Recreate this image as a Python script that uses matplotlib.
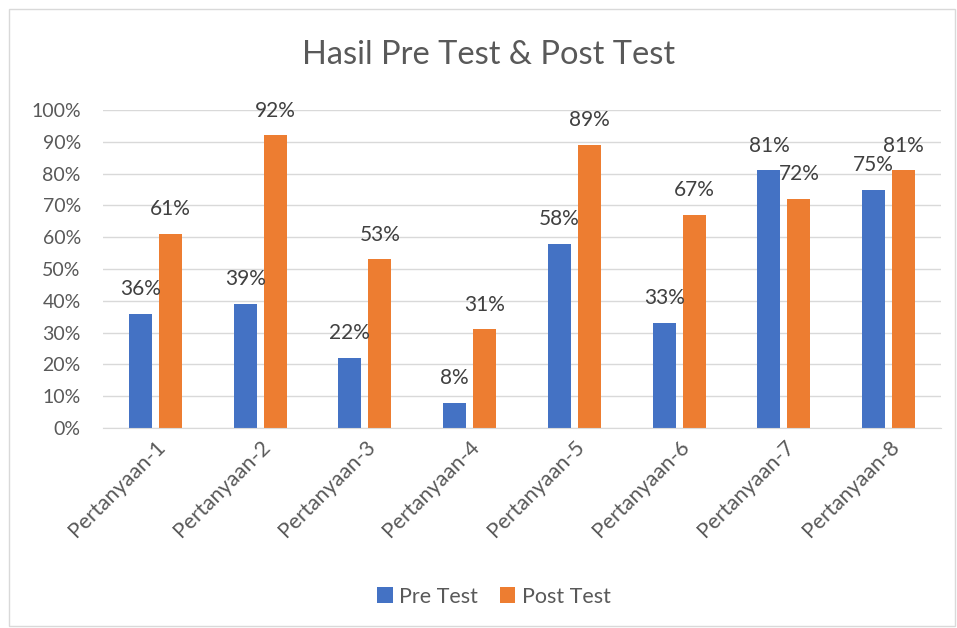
import numpy as np
import matplotlib.pyplot as plt
from matplotlib.patches import Rectangle

categories = ['Pertanyaan-1', 'Pertanyaan-2', 'Pertanyaan-3', 'Pertanyaan-4',
              'Pertanyaan-5', 'Pertanyaan-6', 'Pertanyaan-7', 'Pertanyaan-8']
pre_test = [0.36, 0.39, 0.22, 0.08, 0.58, 0.33, 0.81, 0.75]
post_test = [0.61, 0.92, 0.53, 0.31, 0.89, 0.67, 0.72, 0.81]
yticks = [0.0, 0.1, 0.2, 0.3, 0.4, 0.5, 0.6, 0.7, 0.8, 0.9, 1.0]

plt.rcParams['font.family'] = ['Lato', 'DejaVu Sans']
text_color = '#595959'

fig = plt.figure(figsize=(9.57, 6.28), dpi=100)
ax = fig.add_axes([0.1076, 0.3185, 0.8757, 0.5063])

# light border round the chart
fig.patches.append(Rectangle((0.009, 0.003), 0.989, 0.982, transform=fig.transFigure,
                             fill=False, edgecolor='#d9d9d9', linewidth=1))

x = np.arange(len(categories))
w = 0.22
off = 0.143
b1 = ax.bar(x - off, pre_test, w, color='#4472C4', label='Pre Test', zorder=2)
b2 = ax.bar(x + off, post_test, w, color='#ED7D31', label='Post Test', zorder=2)

for bars, vals in ((b1, pre_test), (b2, post_test)):
    for b, v in zip(bars, vals):
        ax.text(b.get_x() + b.get_width() / 2, v + 0.078, f'{round(v * 100)}%',
                ha='center', va='center', fontsize=15, color='#404040')

ax.set_xlim(-0.5, len(categories) - 0.5)
ax.set_ylim(0, 1.0)
ax.set_yticks(yticks)
ax.set_yticklabels([f'{round(t * 100)}%' for t in yticks])
ax.yaxis.grid(True, color='#d9d9d9', linewidth=1, zorder=0)
ax.set_axisbelow(True)
ax.set_xticks(x)
ax.set_xticklabels(categories, rotation=45, ha='right', rotation_mode='anchor')
ax.tick_params(axis='y', length=0, labelsize=14, colors=text_color, pad=16)
ax.tick_params(axis='x', length=0, labelsize=15.5, colors=text_color, pad=6)
for s in ('top', 'right', 'left'):
    ax.spines[s].set_visible(False)
ax.spines['bottom'].set_color('#d9d9d9')

fig.text(0.51, 0.912, 'Hasil Pre Test & Post Test', ha='center', va='center',
         fontsize=23.5, color=text_color)

fig.legend(handles=[b1, b2], loc='center', bbox_to_anchor=(0.516, 0.05), ncol=2,
           frameon=False, fontsize=15.5, handlelength=0.72, handleheight=0.72,
           columnspacing=1.0, handletextpad=0.3, labelcolor=text_color)

fig.savefig('out.png', dpi=100)
